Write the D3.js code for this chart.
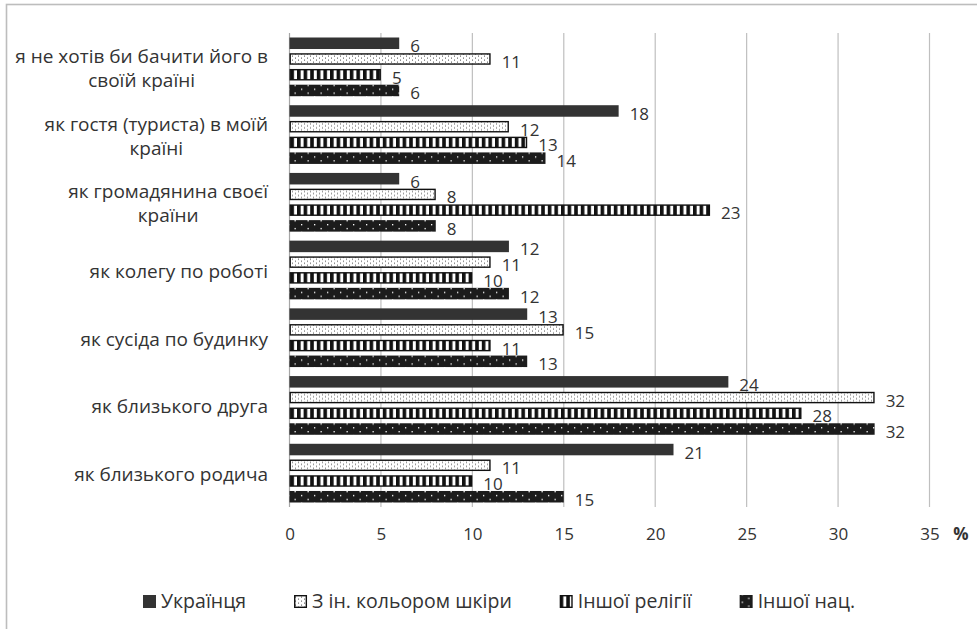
<!DOCTYPE html>
<html>
<head>
<meta charset="utf-8">
<script src="https://cdn.jsdelivr.net/npm/d3@7"></script>
<style>
  html, body { margin: 0; padding: 0; background: #fff; }
  svg { display: block; }
  text { font-family: "Open Sans", "Noto Sans", sans-serif; fill: #333; }
</style>
</head>
<body>
<svg id="chart" width="977" height="629"></svg>
<script>
// ---------------- data ----------------
const categories = [
  ["я не хотів би бачити його в", "своїй країні"],
  ["як гостя (туриста) в моїй", "країні"],
  ["як громадянина своєї", "країни"],
  ["як колегу по роботі"],
  ["як сусіда по будинку"],
  ["як близького друга"],
  ["як близького родича"]
];
const seriesNames = ["Українця", "З ін. кольором шкіри", "Іншої релігії", "Іншої нац."];
const ukrainian = [6, 18, 6, 12, 13, 24, 21];
const otherSkin = [11, 12, 8, 11, 15, 32, 11];
const otherReligion = [5, 13, 23, 10, 11, 28, 10];
const otherNation = [6, 14, 8, 12, 13, 32, 15];
const xTicks = [0, 5, 10, 15, 20, 25, 30, 35];
const unitLabel = "%";

const seriesValues = [ukrainian, otherSkin, otherReligion, otherNation];

// ---------------- layout ----------------
const FS = 17;      // numbers
const FS_CAT = 19;  // category labels
const FS_LEG = 19.5;  // legend
const svg = d3.select("#chart");
const W = 977, H = 629;
const plot = { left: 289.5, right: 929.5, top: 33, bottom: 507 };

// chart border (extends beyond view right/bottom)
svg.append("rect")
  .attr("x", 6.5).attr("y", 4.5)
  .attr("width", W + 20).attr("height", H + 20)
  .attr("fill", "none").attr("stroke", "#bdbdbd").attr("stroke-width", 1.6);

// patterns
const defs = svg.append("defs");
const pSkin = defs.append("pattern").attr("id", "pSkin")
  .attr("patternUnits", "userSpaceOnUse").attr("width", 6).attr("height", 4);
pSkin.append("rect").attr("width", 6).attr("height", 4).attr("fill", "#fff");
pSkin.append("rect").attr("x", 1).attr("y", 0.6).attr("width", 1).attr("height", 1).attr("fill", "#444");
pSkin.append("rect").attr("x", 4).attr("y", 2.6).attr("width", 1).attr("height", 1).attr("fill", "#444");

const pRel = defs.append("pattern").attr("id", "pRel")
  .attr("patternUnits", "userSpaceOnUse").attr("width", 6.6).attr("height", 10);
pRel.append("rect").attr("width", 6.6).attr("height", 10).attr("fill", "#fff");
pRel.append("rect").attr("width", 3.6).attr("height", 10).attr("fill", "#111");

const pNat = defs.append("pattern").attr("id", "pNat")
  .attr("patternUnits", "userSpaceOnUse").attr("width", 13).attr("height", 7.8);
pNat.append("rect").attr("width", 13).attr("height", 7.8).attr("fill", "#1c1c1c");
pNat.append("rect").attr("x", 2).attr("y", 1).attr("width", 1.3).attr("height", 1.3).attr("fill", "#fff");
pNat.append("rect").attr("x", 8.5).attr("y", 4.9).attr("width", 1.3).attr("height", 1.3).attr("fill", "#fff");

const styles = [
  { fill: "#333333", stroke: "none", sw: 0 },
  { fill: "url(#pSkin)", stroke: "#111", sw: 1.4 },
  { fill: "url(#pRel)", stroke: "#111", sw: 1.4 },
  { fill: "url(#pNat)", stroke: "none", sw: 0 }
];

// scales
const x = d3.scaleLinear().domain([0, 35]).range([plot.left, plot.right]);
const y0 = d3.scaleBand().domain(d3.range(categories.length)).range([plot.top, plot.bottom]).padding(0);
const inset = 4.5;
const y1 = d3.scaleBand().domain(d3.range(seriesNames.length))
  .range([inset, y0.bandwidth() - inset]).paddingInner(0.268).paddingOuter(0);

// gridlines
svg.append("g").selectAll("line").data(xTicks.slice(1)).join("line")
  .attr("x1", d => x(d)).attr("x2", d => x(d))
  .attr("y1", plot.top).attr("y2", plot.bottom)
  .attr("stroke", "#bfbfbf").attr("stroke-width", 1.2);

// y axis line
svg.append("line")
  .attr("x1", x(0)).attr("x2", x(0)).attr("y1", plot.top).attr("y2", plot.bottom)
  .attr("stroke", "#a6a6a6").attr("stroke-width", 1.2);

// x tick labels via d3 axis
const xAxis = d3.axisBottom(x).tickValues(xTicks).tickSize(0).tickPadding(0);
const gx = svg.append("g").attr("transform", `translate(0,${plot.bottom})`).call(xAxis);
gx.select(".domain").remove();
gx.attr("font-family", null).attr("font-size", null);
gx.selectAll("text")
  .attr("y", 0).attr("dy", null)
  .attr("transform", "translate(0,33)")
  .style("font-size", FS + "px")
  .style("fill", "#333");

svg.append("text").attr("x", 961).attr("y", plot.bottom + 33)
  .attr("text-anchor", "middle").style("font-size", FS + "px").style("font-weight", "bold")
  .text(unitLabel);

// bars
const groups = svg.append("g").selectAll("g").data(categories).join("g")
  .attr("transform", (d, i) => `translate(0,${y0(i)})`);

groups.each(function(cat, ci) {
  const g = d3.select(this);
  seriesValues.forEach((vals, si) => {
    const v = vals[ci];
    const st = styles[si];
    const by = y1(si), bh = y1.bandwidth();
    const off = st.sw ? st.sw / 2 : 0;
    g.append("rect")
      .attr("x", x(0) + off).attr("y", by + off)
      .attr("width", x(v) - x(0) - 2 * off).attr("height", bh - 2 * off)
      .attr("fill", st.fill).attr("stroke", st.stroke).attr("stroke-width", st.sw);
    g.append("text")
      .attr("x", x(v) + 11).attr("y", by + bh / 2 + 9)
      .style("font-size", FS + "px")
      .text(v);
  });
  // category label
  const lines = cat;
  const n = lines.length;
  const lh = 24;
  const cy = y0.bandwidth() / 2;
  const t = g.append("text").attr("text-anchor", "middle").style("font-size", FS_CAT + "px");
  lines.forEach((ln, li) => {
    t.append("tspan").attr("x", 0).attr("y", cy + 8 + (li - (n - 1) / 2) * lh).text(ln);
  });
  const spans = t.selectAll("tspan").nodes();
  const wmax = d3.max(spans, s => s.getComputedTextLength());
  t.selectAll("tspan").attr("x", 268 - wmax / 2);
});

// legend
const legendY = 601.5;
const sq = 13;
const lg = svg.append("g");
const items = seriesNames.map((name, i) => {
  const it = lg.append("g");
  const st = styles[i];
  const off = st.sw ? st.sw / 2 : 0;
  it.append("rect").attr("x", off).attr("y", legendY - sq / 2 + off)
    .attr("width", sq - 2 * off).attr("height", sq - 2 * off)
    .attr("fill", st.fill).attr("stroke", st.stroke).attr("stroke-width", st.sw);
  const tx = it.append("text").attr("x", sq + 5).attr("y", legendY + 6.5)
    .style("font-size", FS_LEG + "px").text(name);
  return { g: it, w: sq + 5 + tx.node().getComputedTextLength() };
});
const legStart = 143, legEnd = 855;
const totalW = d3.sum(items, d => d.w);
const gap = (legEnd - legStart - totalW) / (items.length - 1);
let cx = legStart;
items.forEach(d => { d.g.attr("transform", `translate(${cx},0)`); cx += d.w + gap; });
</script>
</body>
</html>
